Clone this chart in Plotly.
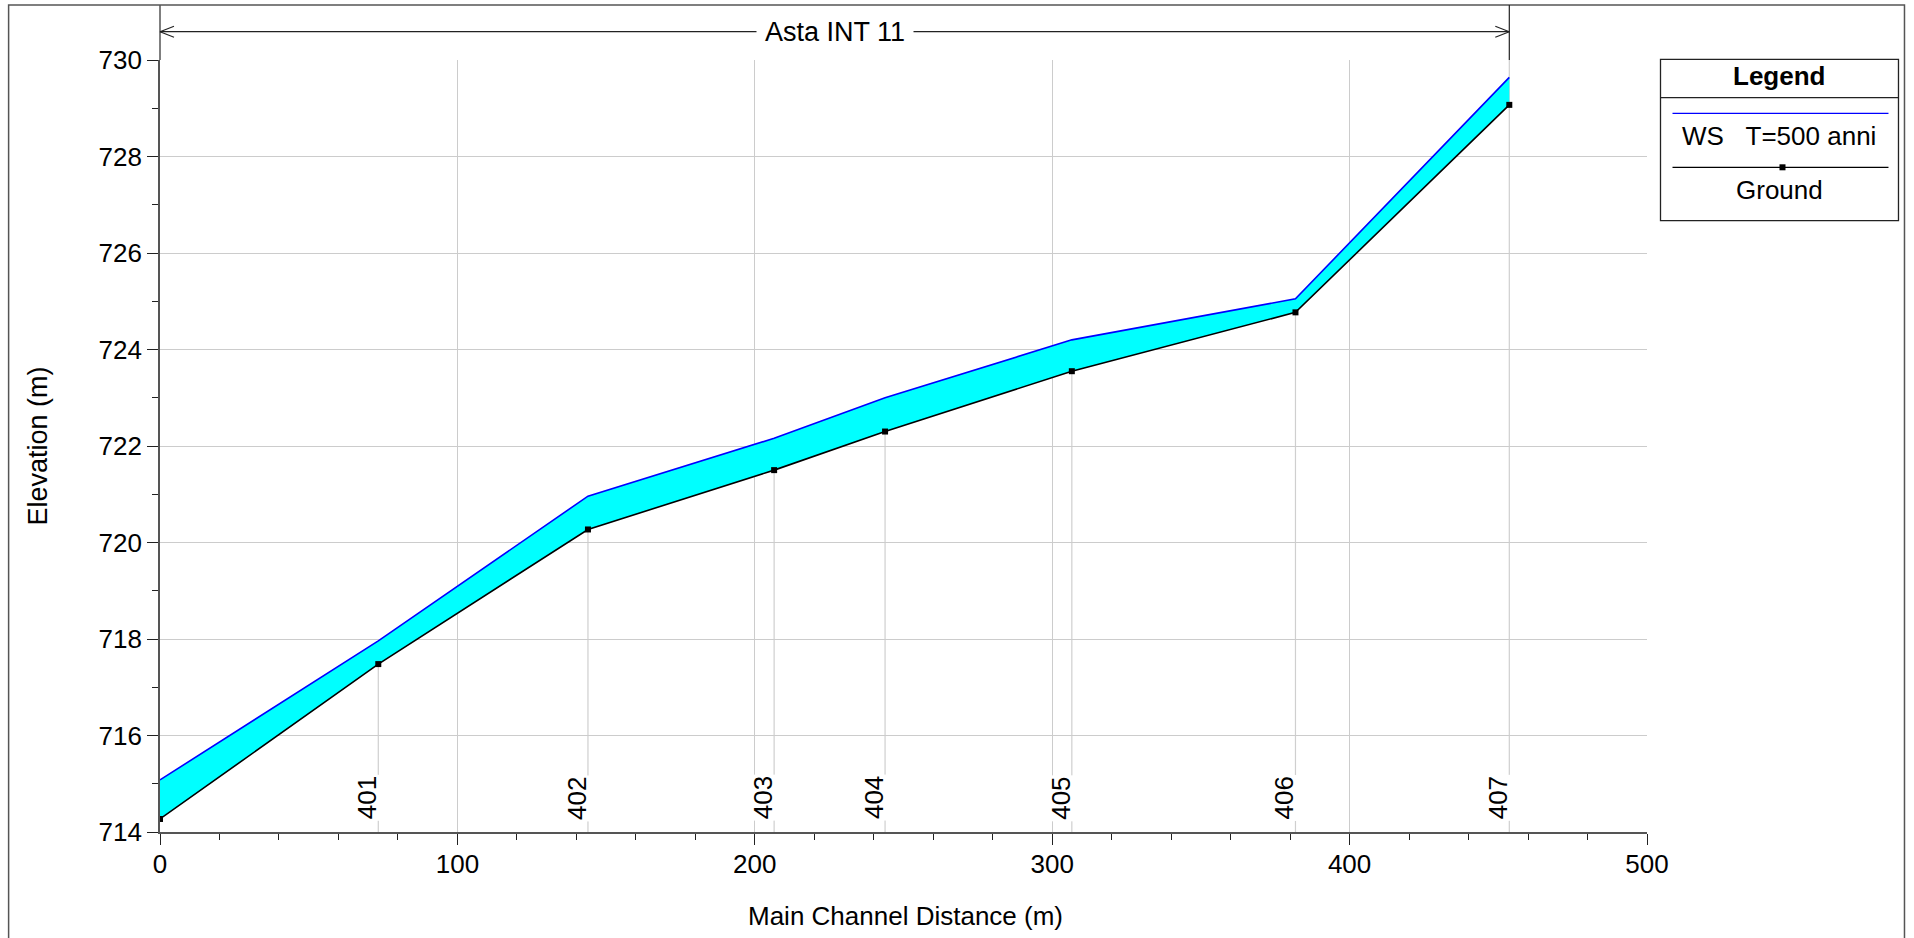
import plotly.graph_objects as go

# ---------------- data ----------------
station_names = ["400", "401", "402", "403", "404", "405", "406", "407"]
distance_m = [0.0, 73.4, 143.9, 206.5, 243.8, 306.6, 381.8, 453.7]
ground_elev = [714.27, 717.48, 720.27, 721.50, 722.30, 723.55, 724.77, 729.07]
ws_elev = [715.08, 717.96, 720.96, 722.16, 723.00, 724.20, 725.05, 729.64]
labelled_stations = ["401", "402", "403", "404", "405", "406", "407"]

x_range = [0, 500]
y_range = [714, 730]
reach_name = "Asta INT 11"
legend_ws = "WS\u00a0\u00a0\u00a0T=500 anni"
legend_ground = "Ground"

# ---------------- geometry (pixels) ----------------
W, H = 1914, 938
L, R, T, B = 160.4, 1647.5, 60.0, 832.0


def pxx(x):
    return (x - L) / (R - L)


def pxy(y):
    return (B - y) / (B - T)


def data_x_to_px(x):
    return L + (x - x_range[0]) / (x_range[1] - x_range[0]) * (R - L)


FONT = "Arial, 'Liberation Sans', sans-serif"

fig = go.Figure()

# fill between ground and water surface
fig.add_trace(go.Scatter(x=distance_m, y=ground_elev, mode="lines",
                         line=dict(width=0, color="rgba(0,0,0,0)"),
                         showlegend=False, hoverinfo="skip"))
fig.add_trace(go.Scatter(x=distance_m, y=ws_elev, mode="lines", fill="tonexty",
                         fillcolor="#00FFFF", line=dict(width=0, color="rgba(0,0,0,0)"),
                         showlegend=False, hoverinfo="skip"))

# station vertical lines (from ground down to axis)
for d, g in zip(distance_m[1:-1], ground_elev[1:-1]):
    fig.add_shape(type="line", x0=d, x1=d, y0=y_range[0], y1=g, xref="x", yref="y",
                  line=dict(color="#cfcfcf", width=1.2), layer="below")
# last station line spans full plot height
fig.add_shape(type="line", x0=distance_m[-1], x1=distance_m[-1], y0=y_range[0], y1=y_range[1],
              xref="x", yref="y", line=dict(color="#cfcfcf", width=1.2), layer="below")

# water surface
fig.add_trace(go.Scatter(x=distance_m, y=ws_elev, mode="lines", name=legend_ws,
                         line=dict(color="#0000FF", width=1.6), showlegend=False))
# ground
fig.add_trace(go.Scatter(x=distance_m, y=ground_elev, mode="lines+markers", name=legend_ground,
                         line=dict(color="#000000", width=1.6),
                         marker=dict(symbol="square", size=6, color="#000000"),
                         showlegend=False))

# station labels
for name, d in zip(station_names, distance_m):
    if name in labelled_stations:
        fig.add_annotation(x=d, y=y_range[0], xref="x", yref="y", text=name,
                           textangle=-90, showarrow=False, xanchor="center", yanchor="middle",
                           xshift=-11, yshift=34, bgcolor="white", borderpad=1,
                           font=dict(family=FONT, size=26, color="black"))

# outer frame
fig.add_shape(type="rect", xref="paper", yref="paper",
              x0=pxx(9), x1=pxx(1905), y0=pxy(5), y1=pxy(950),
              line=dict(color="#555555", width=1.5))

# left axis extension & reach end line above plot
fig.add_shape(type="line", xref="paper", yref="paper", x0=0, x1=0, y0=1, y1=pxy(5),
              line=dict(color="#555555", width=1.5))
x_end = data_x_to_px(distance_m[-1])
fig.add_shape(type="line", xref="paper", yref="paper", x0=pxx(x_end), x1=pxx(x_end),
              y0=1, y1=pxy(5), line=dict(color="#222222", width=1.2))

# reach arrow
ay = 31.7
fig.add_shape(type="line", xref="paper", yref="paper", x0=0, x1=pxx(x_end),
              y0=pxy(ay), y1=pxy(ay), line=dict(color="#222222", width=1.2))
for tip, sgn in [(L, 1), (x_end, -1)]:
    for dy in (-5.5, 5.5):
        fig.add_shape(type="line", xref="paper", yref="paper",
                      x0=pxx(tip), y0=pxy(ay), x1=pxx(tip + sgn * 14), y1=pxy(ay + dy),
                      line=dict(color="#222222", width=1.2))
fig.add_annotation(xref="paper", yref="paper", x=pxx((L + x_end) / 2), y=pxy(ay),
                   text=reach_name, showarrow=False, bgcolor="white", borderpad=8,
                   xanchor="center", yanchor="middle",
                   font=dict(family=FONT, size=27, color="black"))

# axis titles
fig.add_annotation(xref="paper", yref="paper", x=pxx(906), y=pxy(916), text="Main Channel Distance (m)",
                   showarrow=False, xanchor="center", yanchor="middle",
                   font=dict(family=FONT, size=26, color="black"))
fig.add_annotation(xref="paper", yref="paper", x=pxx(38), y=pxy(446), text="Elevation (m)",
                   showarrow=False, xanchor="center", yanchor="middle", textangle=-90,
                   font=dict(family=FONT, size=27, color="black"))

# custom legend box
lx0, lx1, ly0, ly1 = 1661, 1899, 59.3, 220.7
fig.add_shape(type="rect", xref="paper", yref="paper", x0=pxx(lx0), x1=pxx(lx1),
              y0=pxy(ly0), y1=pxy(ly1), line=dict(color="#222222", width=1.3), fillcolor="white")
fig.add_shape(type="line", xref="paper", yref="paper", x0=pxx(lx0), x1=pxx(lx1),
              y0=pxy(97.7), y1=pxy(97.7), line=dict(color="#222222", width=1.3))
fig.add_annotation(xref="paper", yref="paper", x=pxx((lx0 + lx1) / 2), y=pxy(76),
                   text="<b>Legend</b>", showarrow=False, xanchor="center", yanchor="middle",
                   font=dict(family=FONT, size=26, color="black"))
fig.add_shape(type="line", xref="paper", yref="paper", x0=pxx(1673), x1=pxx(1889),
              y0=pxy(113.3), y1=pxy(113.3), line=dict(color="#0000FF", width=1.3))
fig.add_annotation(xref="paper", yref="paper", x=pxx((lx0 + lx1) / 2), y=pxy(136),
                   text=legend_ws, showarrow=False, xanchor="center", yanchor="middle",
                   font=dict(family=FONT, size=26, color="black"))
fig.add_shape(type="line", xref="paper", yref="paper", x0=pxx(1673), x1=pxx(1889),
              y0=pxy(167.3), y1=pxy(167.3), line=dict(color="#000000", width=1.3))
fig.add_shape(type="rect", xref="paper", yref="paper", x0=pxx(1780), x1=pxx(1786),
              y0=pxy(164.3), y1=pxy(170.3), line=dict(width=0), fillcolor="#000000")
fig.add_annotation(xref="paper", yref="paper", x=pxx((lx0 + lx1) / 2), y=pxy(190),
                   text=legend_ground, showarrow=False, xanchor="center", yanchor="middle",
                   font=dict(family=FONT, size=26, color="black"))

axis_common = dict(showline=True, linecolor="#555555", linewidth=1.6,
                   showgrid=True, gridcolor="#cccccc", gridwidth=1.2,
                   ticks="outside", ticklen=11, tickwidth=1.2, tickcolor="#222222",
                   zeroline=False, tickfont=dict(family=FONT, size=26, color="black"))

fig.update_layout(
    width=W, height=H,
    margin=dict(l=L, r=W - R, t=T, b=H - B, autoexpand=False),
    paper_bgcolor="white", plot_bgcolor="white",
    showlegend=False,
    xaxis=dict(range=x_range, dtick=100, tick0=0, ticklabelstandoff=-3,
               minor=dict(dtick=20, ticks="outside", ticklen=6, tickcolor="#222222", showgrid=False),
               **axis_common),
    yaxis=dict(range=y_range, dtick=2, tick0=714,
               minor=dict(dtick=1, ticks="outside", ticklen=6, tickcolor="#222222", showgrid=False),
               **axis_common),
)

fig.write_html("out.html", config={"displayModeBar": False},
               post_script="document.body.style.margin='0';document.body.style.overflow='hidden';")
